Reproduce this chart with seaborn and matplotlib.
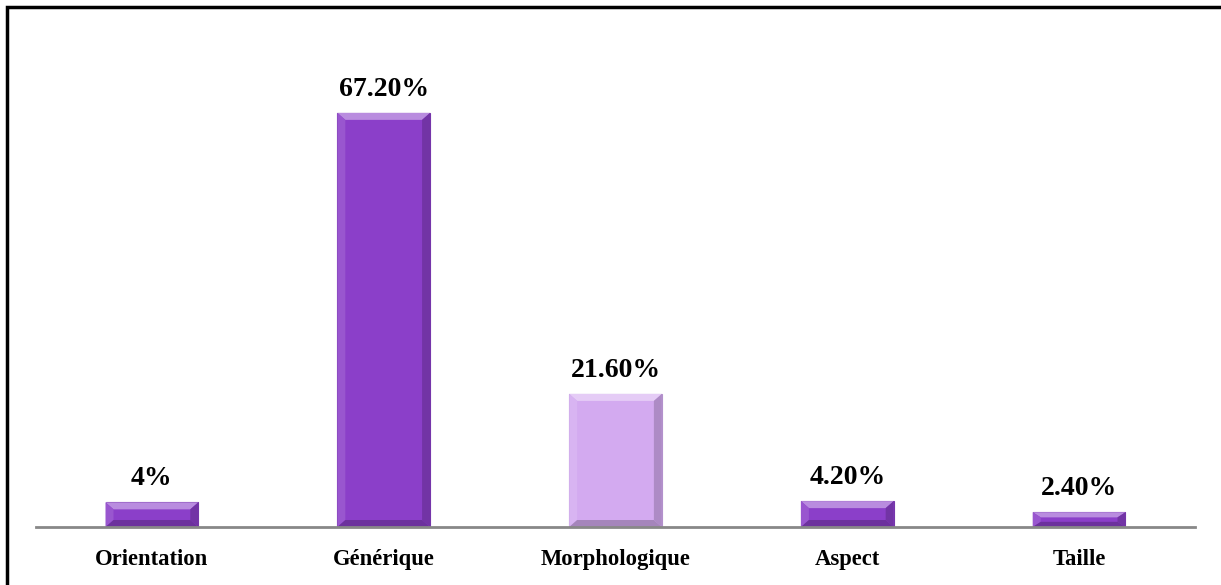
import matplotlib
matplotlib.use("Agg")
import matplotlib.pyplot as plt
from matplotlib.patches import Polygon, Rectangle
import seaborn as sns
import pandas as pd

categories = ["Orientation", "Générique", "Morphologique", "Aspect", "Taille"]
values = [4.0, 67.2, 21.6, 4.2, 2.4]
value_labels = ["4%", "67.20%", "21.60%", "4.20%", "2.40%"]
bar_colors = ["#8B3FC9", "#8B3FC9", "#D3AAF0", "#8B3FC9", "#8B3FC9"]

sns.set_theme(style="white")
plt.rcParams["font.family"] = ["Liberation Serif", "DejaVu Serif"]

df = pd.DataFrame({"cat": categories, "val": values})

fig = plt.figure(figsize=(12.21, 5.85), dpi=100)
ax = fig.add_axes([36 / 1221, 1 - 527 / 585, (1195 - 36) / 1221, (527 - 34) / 585])

sns.barplot(data=df, x="cat", y="val", hue="cat", palette=bar_colors,
            width=0.4, legend=False, ax=ax, saturation=1)

def shade(c, f):
    r, g, b = matplotlib.colors.to_rgb(c)
    if f >= 0:
        return (r + (1 - r) * f, g + (1 - g) * f, b + (1 - b) * f)
    return (r * (1 + f), g * (1 + f), b * (1 + f))

# bevelled look: light top/left facets, dark bottom/right facets
for patch, col in zip(ax.patches, bar_colors):
    x0, y0 = patch.get_x(), patch.get_y()
    w, h = patch.get_width(), patch.get_height()
    patch.set_edgecolor(shade(col, -0.15))
    patch.set_linewidth(0.8)
    px_x = w / 93.0
    px_y = 80.0 / (527 - 34)
    dx = 8 * px_x
    dy = min(7 * px_y, h * 0.35)
    x1, y1 = x0 + w, y0 + h
    facets = [
        ([(x0, y1), (x1, y1), (x1 - dx, y1 - dy), (x0 + dx, y1 - dy)], shade(col, 0.4)),
        ([(x0, y0), (x0, y1), (x0 + dx, y1 - dy), (x0 + dx, y0 + dy)], shade(col, 0.12)),
        ([(x1, y0), (x1, y1), (x1 - dx, y1 - dy), (x1 - dx, y0 + dy)], shade(col, -0.18)),
        ([(x0, y0), (x1, y0), (x1 - dx, y0 + dy), (x0 + dx, y0 + dy)], shade(col, -0.22)),
    ]
    for pts, fc in facets:
        ax.add_patch(Polygon(pts, closed=True, facecolor=fc, edgecolor="none",
                             zorder=patch.get_zorder() + 0.1))

for patch, lab in zip(ax.patches[:len(values)], value_labels):
    ax.text(patch.get_x() + patch.get_width() / 2, patch.get_height() + 1.8, lab,
            ha="center", va="bottom", fontsize=20, fontweight="bold", color="black")

ax.set_ylim(0, 80)
ax.set_xlim(-0.5, len(categories) - 0.5)
ax.set_xlabel("")
ax.set_ylabel("")
ax.set_yticks([])
ax.tick_params(axis="x", length=0, pad=16)
for t in ax.get_xticklabels():
    t.set_fontsize(16.3)
    t.set_fontweight("bold")
    t.set_color("black")
for s in ["top", "right", "left"]:
    ax.spines[s].set_visible(False)
ax.spines["bottom"].set_color("#888888")
ax.spines["bottom"].set_linewidth(2)

# outer frame
fig.add_artist(Rectangle((7 / 1221, -0.1), 1.2, 1 - 7 / 585 + 0.1, transform=fig.transFigure,
                         fill=False, edgecolor="black", linewidth=2.5))

fig.savefig("out.png", dpi=100)
